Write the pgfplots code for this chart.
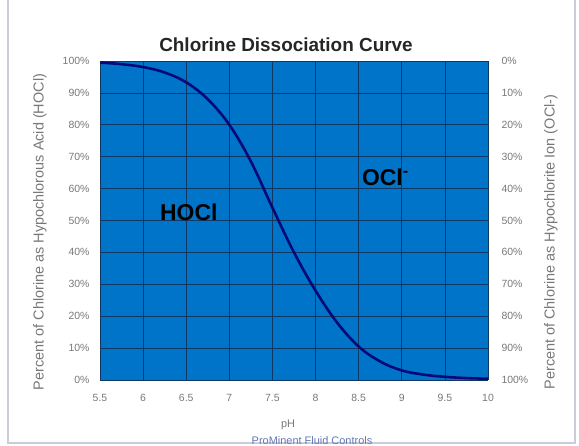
\documentclass[border=0pt]{standalone}
\usepackage{pgfplots}
\pgfplotsset{compat=1.18}
\usepackage{fontspec}
\setmainfont{Liberation Sans}
\definecolor{plotblue}{RGB}{0,116,200}
\definecolor{gridnavy}{RGB}{16,56,100}
\definecolor{curvenavy}{RGB}{8,8,120}
\definecolor{labgray}{RGB}{120,120,120}
\definecolor{framegray}{RGB}{200,205,215}
\definecolor{footblue}{RGB}{100,120,180}
\begin{document}
\begin{tikzpicture}[x=1bp,y=1bp]
\path[use as bounding box] (0,0) rectangle (579,446);
\draw[framegray, line width=1.5bp] (8,446) -- (8,3) -- (575,3) -- (575,446);
\begin{axis}[
  at={(100bp,66bp)}, anchor=south west,
  scale only axis, width=388bp, height=319bp,
  xmin=5.5, xmax=10, ymin=0, ymax=100,
  xtick={5.5,6,6.5,7,7.5,8,8.5,9,9.5,10},
  ytick={0,10,20,30,40,50,60,70,80,90,100},
  grid=major,
  grid style={gridnavy, line width=0.7bp},
  axis background/.style={fill=plotblue},
  axis line style={draw=none},
  tick style={draw=none},
  /pgf/number format/assume math mode=true,
  ticklabel style={font=\fontsize{10.5}{12}\selectfont, text=labgray},
  yticklabel={\pgfmathprintnumber{\tick}\%},
  xticklabel style={yshift=-11bp},
  yticklabel style={xshift=-7bp},
]
\addplot[curvenavy, line width=2.6bp, smooth, tension=0.6] coordinates {
(5.5,99.5) (5.75,99.0) (6.0,98.1) (6.25,96.4) (6.5,93.3) (6.75,88.0) (7.0,80) (7.25,68.5) (7.5,54) (7.75,40)
(8.0,28) (8.25,18) (8.5,10.5) (8.75,5.8) (9.0,3) (9.25,1.7) (9.5,1) (9.75,0.6) (10,0.4)
};
\node[font=\bfseries\fontsize{23}{26}\selectfont, text=black] at (axis cs:6.53,52.5) {HOCl};
\node[font=\bfseries\fontsize{23}{26}\selectfont, text=black] at (axis cs:8.81,63.5) {OCl\textsuperscript{-}};
\end{axis}
\begin{axis}[
  at={(100bp,66bp)}, anchor=south west,
  scale only axis, width=388bp, height=319bp,
  xmin=5.5, xmax=10, ymin=0, ymax=100,
  y dir=reverse,
  axis y line*=right, axis x line=none,
  axis line style={draw=none},
  tick style={draw=none},
  ytick={0,10,20,30,40,50,60,70,80,90,100},
  /pgf/number format/assume math mode=true,
  ticklabel style={font=\fontsize{10.5}{12}\selectfont, text=labgray},
  yticklabel={\pgfmathprintnumber{\tick}\%},
  yticklabel style={xshift=10bp},
]
\end{axis}
\node[rotate=90, font=\fontsize{14.5}{16}\selectfont, text=labgray] at (40,214) {Percent of Chlorine as Hypochlorous Acid (HOCl)};
\node[rotate=90, font=\fontsize{14.5}{16}\selectfont, text=labgray] at (551,204) {Percent of Chlorine as Hypochlorite Ion (OCl-)};
\node[font=\fontsize{11}{12}\selectfont, text=labgray] at (288,21) {pH};
\node[font=\bfseries\fontsize{19}{22}\selectfont, text=black!85] at (286,401) {Chlorine Dissociation Curve};
\node[font=\fontsize{11}{12}\selectfont, text=footblue] at (312,5) {ProMinent Fluid Controls};
\end{tikzpicture}
\end{document}
